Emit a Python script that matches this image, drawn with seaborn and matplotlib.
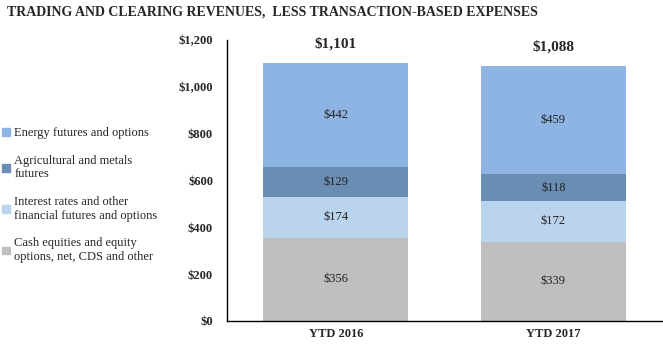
import matplotlib.pyplot as plt
import matplotlib.patches as mpatches
import numpy as np
import pandas as pd
import seaborn as sns

periods = ['YTD 2016', 'YTD 2017']
# segments from bottom to top
segments = ['Cash equities and equity\noptions, net, CDS and other',
            'Interest rates and other\nfinancial futures and options',
            'Agricultural and metals\nfutures',
            'Energy futures and options']
cash = [356, 339]
rates = [174, 172]
agri = [129, 118]
energy = [442, 459]
totals = ['$1,101', '$1,088']
yticks = [0, 200, 400, 600, 800, 1000, 1200]
ytick_labels = ['$0', '$200', '$400', '$600', '$800', '$1,000', '$1,200']
colors = ['#BFBFBF', '#BBD4EE', '#6A8DB4', '#8DB4E2']

sns.set_style('white')
plt.rcParams['font.family'] = ['Liberation Serif', 'DejaVu Serif']

values = np.array([cash, rates, agri, energy])
cum = values.cumsum(axis=0)

fig = plt.figure(figsize=(6.63, 3.51), dpi=100)
ax = fig.add_axes([227 / 663, 30 / 351, 435 / 663, 281 / 351])

# draw cumulative totals from top down so each layer shows its segment
for i in range(len(segments) - 1, -1, -1):
    df = pd.DataFrame({'period': periods, 'value': cum[i]})
    sns.barplot(data=df, x='period', y='value', color=colors[i], width=0.665,
                saturation=1, linewidth=0, edgecolor='none', ax=ax)

for j in range(len(periods)):
    for i in range(len(segments)):
        mid = cum[i][j] - values[i][j] / 2
        ax.text(j, mid, '$' + str(values[i][j]), ha='center', va='center',
                fontsize=9, color='#222222')
    ax.text(j, cum[-1][j] + 55, totals[j], ha='center', va='bottom',
            fontsize=11, fontweight='bold')

ax.set_xlim(-0.5, 1.5)
ax.set_ylim(0, 1200)
ax.set_yticks(yticks)
ax.set_yticklabels(ytick_labels, fontsize=9, fontweight='bold')
ax.set_xticks([0, 1])
ax.set_xticklabels(periods, fontsize=9, fontweight='bold')
ax.tick_params(axis='both', length=0, pad=10)
ax.tick_params(axis='x', pad=5)
ax.set_xlabel('')
ax.set_ylabel('')
sns.despine(ax=ax)
for s in ['left', 'bottom']:
    ax.spines[s].set_color('black')
    ax.spines[s].set_linewidth(1)

handles = [mpatches.Patch(color=colors[i]) for i in range(len(segments) - 1, -1, -1)]
labels = [segments[i] for i in range(len(segments) - 1, -1, -1)]
fig.legend(handles, labels, loc='upper left', bbox_to_anchor=(2 / 663, 1 - 127 / 351),
           frameon=False, fontsize=9, handlelength=0.6, handleheight=0.6,
           handletextpad=0.4, labelspacing=1.25, borderaxespad=0, borderpad=0)

fig.text(7 / 663, 1 - 12 / 351, 'TRADING AND CLEARING REVENUES,  LESS TRANSACTION-BASED EXPENSES',
         fontsize=10, fontweight='bold', va='center', ha='left')

fig.savefig('out.png', dpi=100)
